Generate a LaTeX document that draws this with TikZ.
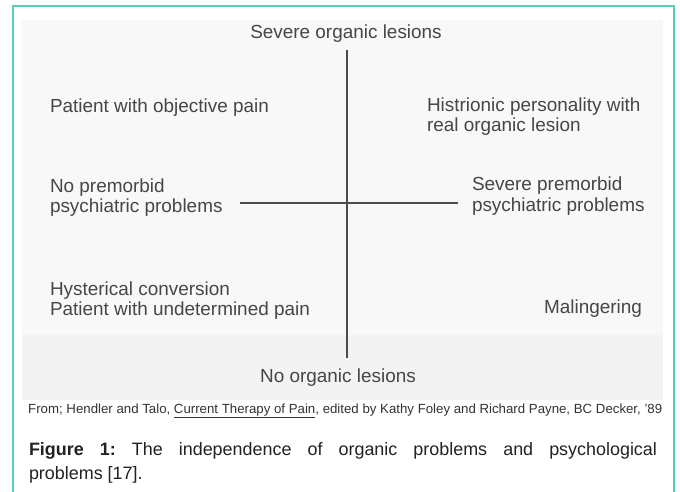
\documentclass[tikz,border=0pt]{standalone}
\usepackage{fontspec}
\setmainfont{Liberation Sans}
\definecolor{frameteal}{RGB}{88,206,186}
\definecolor{scanink}{RGB}{70,70,70}
\definecolor{scanbg}{RGB}{248,248,248}
\definecolor{scanbg2}{RGB}{243,243,243}
\definecolor{capink}{RGB}{34,34,34}
\newcommand{\capgap}{\hspace{5pt plus 1fill}}
\begin{document}
\begin{tikzpicture}[x=1bp,y=-1bp,
  scantext/.style={inner sep=0pt,outer sep=0pt,text=scanink,font=\fontsize{19}{20}\selectfont},
  captext/.style={inner sep=0pt,outer sep=0pt,text=capink,font=\fontsize{18}{20}\selectfont},
  axisline/.style={draw=black!70,line width=1.6bp},
  frameline/.style={draw=frameteal,line width=2bp}]
\useasboundingbox (0,0) rectangle (680,492);
\fill[white] (0,0) rectangle (680,492);
% scanned area
\fill[scanbg] (22,20) rectangle (663,400);
\fill[scanbg2] (22,335) rectangle (663,400);
% frame
\coordinate (fbl) at (13,492);
\coordinate (ftl) at (13,6);
\coordinate (ftr) at (674,6);
\coordinate (fbr) at (674,492);
\draw[frameline] (fbl) -- (ftl) -- (ftr) -- (fbr);
% axes
\coordinate (vtop) at (347,50);
\coordinate (vbot) at (347,358);
\coordinate (hleft) at (240,203);
\coordinate (hright) at (458,203);
\draw[axisline] (vtop) -- (vbot);
\draw[axisline] (hleft) -- (hright);
% labels
\node[scantext,anchor=base] (top) at (346,39) {Severe organic lesions};
\node[scantext,anchor=base] (bot) at (338,382) {No organic lesions};
\node[scantext,anchor=base west] (q1) at (50,113) {Patient with objective pain};
\node[scantext,anchor=base west] (l1) at (50,193) {No premorbid};
\node[scantext,anchor=base west] (l2) at (50,213) {psychiatric problems};
\node[scantext,anchor=base west] (q2a) at (427,112) {Histrionic personality with};
\node[scantext,anchor=base west] (q2b) at (427,132) {real organic lesion};
\node[scantext,anchor=base west] (r1) at (472,191) {Severe premorbid};
\node[scantext,anchor=base west] (r2) at (472,212) {psychiatric problems};
\node[scantext,anchor=base west] (q3a) at (50,295) {Hysterical conversion};
\node[scantext,anchor=base west] (q3b) at (50,315) {Patient with undetermined pain};
\node[scantext,anchor=base east] (q4) at (642,313) {Malingering};
% source line
\node[inner sep=0pt,anchor=base west,text=black!80] (src) at (28,413)
  {\resizebox{634bp}{!}{\fontsize{11}{12}\selectfont From; Hendler and Talo, \underline{Current Therapy of Pain}, edited by Kathy Foley and Richard Payne, BC Decker, ’89}};
% caption
\node[captext,anchor=base west] (cap1) at (29,455)
  {\makebox[628bp][s]{\textbf{Figure}\capgap\textbf{1:}\capgap The\capgap independence\capgap of\capgap organic\capgap problems\capgap and\capgap psychological}};
\node[captext,anchor=base west] (cap2) at (29,479) {problems [17].};
\end{tikzpicture}
\end{document}
